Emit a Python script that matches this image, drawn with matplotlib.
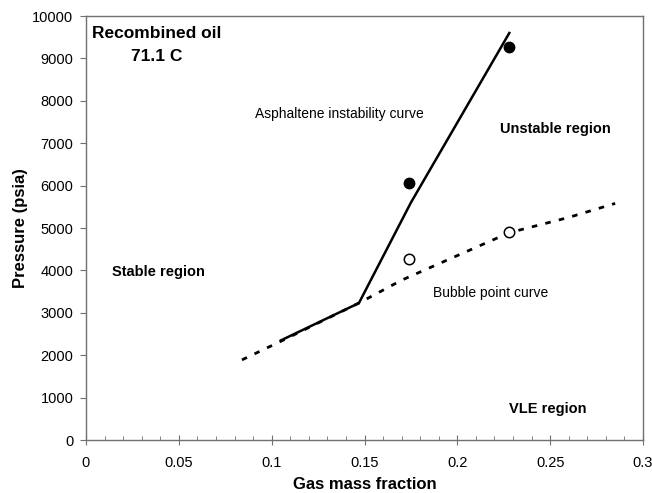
import matplotlib.pyplot as plt
from matplotlib.ticker import MultipleLocator

plt.rcParams['font.family'] = ['Liberation Sans', 'DejaVu Sans']

# asphaltene instability curve (solid)
onset_x = [0.105, 0.147, 0.175, 0.228]
onset_y = [2350, 3230, 5600, 9600]

# bubble point curve (dotted)
bubble_x = [0.084, 0.105, 0.125, 0.147, 0.17, 0.2, 0.228, 0.26, 0.285]
bubble_y = [1890, 2330, 2760, 3230, 3770, 4350, 4890, 5250, 5580]

# measured onset points (filled) and bubble points (open)
meas_x = [0.174, 0.228]
meas_onset = [6050, 9280]
meas_bubble = [4270, 4910]

fig = plt.figure(figsize=(6.52, 4.93), dpi=100)
ax = fig.add_axes([0.1319, 0.1075, 0.8543, 0.86])

ax.plot(onset_x, onset_y, color='black', lw=1.8)
ax.plot(bubble_x, bubble_y, color='black', lw=2, dashes=(2, 3))
ax.plot(meas_x, meas_onset, 'o', color='black', ms=7.5)
ax.plot(meas_x, meas_bubble, 'o', mfc='white', mec='black', mew=1.1, ms=7.5)

ax.set_xlim(0, 0.3)
ax.set_ylim(0, 10000)
ax.xaxis.set_minor_locator(MultipleLocator(0.01))
ax.yaxis.set_major_locator(MultipleLocator(1000))
ax.set_xticks([0, 0.05, 0.1, 0.15, 0.2, 0.25, 0.3])
ax.set_xticklabels(['0', '0.05', '0.1', '0.15', '0.2', '0.25', '0.3'])

for s in ax.spines.values():
    s.set_color('#707070')
    s.set_linewidth(1.0)
ax.tick_params(axis='x', which='major', direction='inout', length=7, color='#707070',
               labelsize=10.5, pad=8)
ax.tick_params(axis='x', which='minor', direction='in', length=3, color='#707070')
ax.tick_params(axis='y', which='major', direction='out', length=4, color='#707070',
               labelsize=10.5, pad=5)

ax.set_xlabel('Gas mass fraction', fontsize=12, fontweight='bold', labelpad=5)
ax.set_ylabel('Pressure (psia)', fontsize=12, fontweight='bold', labelpad=3)

ax.text(0.038, 9320, 'Recombined oil\n71.1 C', fontsize=12.5, fontweight='bold',
        ha='center', va='center', linespacing=1.7)
ax.text(0.091, 7680, 'Asphaltene instability curve', fontsize=10, va='center')
ax.text(0.223, 7330, 'Unstable region', fontsize=10.5, fontweight='bold', va='center')
ax.text(0.014, 3970, 'Stable region', fontsize=10.5, fontweight='bold', va='center')
ax.text(0.187, 3460, 'Bubble point curve', fontsize=10, va='center')
ax.text(0.228, 720, 'VLE region', fontsize=10.5, fontweight='bold', va='center')

fig.savefig('out.png', dpi=100)
